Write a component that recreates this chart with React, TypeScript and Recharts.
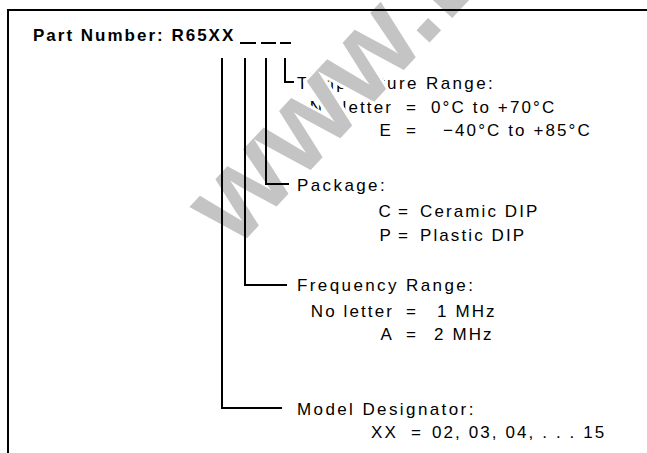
import { ComposedChart, XAxis, YAxis, Line, Scatter } from "recharts";

// text content of the ordering diagram
const partNumber = "Part Number: R65XX";
const fieldTitles = ["Temperature Range:", "Package:", "Frequency Range:", "Model Designator:"];
const optionKeys = [["No letter", "E"], ["C", "P"], ["No letter", "A"], ["XX"]];
const optionValues = [
  ["0°C to +70°C", "−40°C to +85°C"],
  ["Ceramic DIP", "Plastic DIP"],
  ["1 MHz", "2 MHz"],
  ["02, 03, 04, . . . 15"],
];
const watermark = "www.DataSheet4U.com";

// layout (pixel space of the 647x453 picture)
const W = 647;
const H = 453;
const TITLE_X = 297;
const TITLE_Y = [83, 185, 285, 409];
const ROW_Y = [[107, 130], [211, 235], [311, 334], [432]];
const KEY_END = [393, 393, 394, 398];
const EQ_X = [412, 404, 412, 417];
const VAL_X = [[431, 443], [420, 420], [437, 434], [432]];
const LEADER_X = [285, 266, 245, 222];
const LEADER_TOP = 58;
const ELBOW_Y = [82, 184, 285, 408];
const ELBOW_END = [294, 289, 287, 282];
const DASHES = [[240, 256], [261, 276], [280, 291]];
const DASH_Y = 43;

type Label = { x: number; y: number; text: string; kind: string };

const labels: Label[] = [{ x: 33, y: 35, text: partNumber, kind: "head" }];
fieldTitles.forEach((t, i) => {
  labels.push({ x: TITLE_X, y: TITLE_Y[i], text: t, kind: "title" });
  optionKeys[i].forEach((k, j) => {
    labels.push({ x: KEY_END[i], y: ROW_Y[i][j], text: k, kind: "end" });
    labels.push({ x: EQ_X[i], y: ROW_Y[i][j], text: "=", kind: "mid" });
    labels.push({ x: VAL_X[i][j], y: ROW_Y[i][j], text: optionValues[i][j], kind: "start" });
  });
});
labels.push({ x: 236, y: 250, text: watermark, kind: "mark" });

const leaders = LEADER_X.map((lx, i) => [
  { x: lx, y: LEADER_TOP },
  { x: lx, y: ELBOW_Y[i] },
  { x: ELBOW_END[i], y: ELBOW_Y[i] },
]);
const frame = [
  { x: 8, y: H },
  { x: 8, y: 10 },
  { x: W, y: 10 },
];
const dashes = DASHES.map(([a, b]) => [
  { x: a, y: DASH_Y },
  { x: b, y: DASH_Y },
]);

const FONT = "'Liberation Sans', Arial, Helvetica, sans-serif";

function LabelShape(props: any) {
  const { cx, cy, payload } = props;
  const p = payload as Label;
  if (p.kind === "mark") {
    return (
      <text
        x={cx}
        y={cy}
        transform={`rotate(-47 ${cx} ${cy})`}
        fontFamily={FONT}
        fontWeight="bold"
        fontSize={120}
        fill="#c4c4c4"
        stroke="#ffffff"
        strokeWidth={6}
        style={{ paintOrder: "stroke" }}
      >
        {p.text}
      </text>
    );
  }
  const anchor = p.kind === "end" ? "end" : p.kind === "mid" ? "middle" : "start";
  const spacing = p.kind === "head" ? 2 : p.kind === "title" ? 2.4 : 2.1;
  return (
    <text
      x={cx}
      y={cy}
      textAnchor={anchor}
      dominantBaseline="central"
      fontFamily={FONT}
      fontWeight={p.kind === "head" ? "bold" : "normal"}
      fontSize={17}
      fill="#000"
      style={{ letterSpacing: spacing, whiteSpace: "pre" }}
    >
      {p.text}
    </text>
  );
}

export default function App() {
  const segs = [frame, ...leaders, ...dashes];
  return (
    <div style={{ position: "absolute", left: 0, top: 0, width: W, height: H, background: "#fff" }}>
      <ComposedChart width={W} height={H} margin={{ top: 0, right: 0, bottom: 0, left: 0 }}>
        <XAxis type="number" dataKey="x" domain={[0, W]} allowDataOverflow hide />
        <YAxis type="number" dataKey="y" domain={[0, H]} reversed allowDataOverflow hide />
        <Scatter data={labels} dataKey="y" shape={LabelShape} isAnimationActive={false} />
        {segs.map((d, i) => (
          <Line
            key={i}
            data={d}
            dataKey="y"
            type="linear"
            stroke="#000"
            strokeWidth={2}
            strokeLinejoin="miter"
            dot={false}
            activeDot={false}
            isAnimationActive={false}
            zIndex={700}
          />
        ))}
      </ComposedChart>
    </div>
  );
}
